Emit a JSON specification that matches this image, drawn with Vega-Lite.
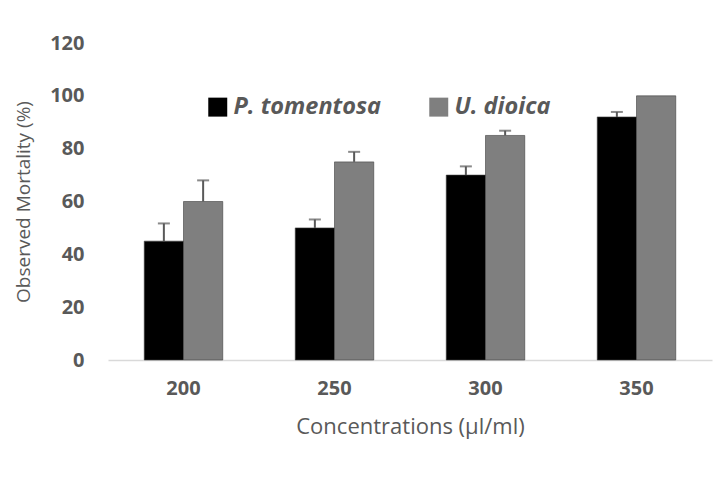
{
  "$schema": "https://vega.github.io/schema/vega-lite/v6.json",
  "autosize": "none",
  "width": 604,
  "height": 317,
  "padding": {"left": 108, "top": 43, "right": 11, "bottom": 144},
  "background": "white",
  "config": {
    "font": "Open Sans",
    "view": {"stroke": null},
    "axis": {"labelColor": "#595959", "titleColor": "#595959", "grid": false, "ticks": false}
  },
  "data": {
    "values": [
      {"conc": "200", "species": "P. tomentosa", "mortality": 45, "upper": 51.7},
      {"conc": "200", "species": "U. dioica", "mortality": 60, "upper": 68},
      {"conc": "250", "species": "P. tomentosa", "mortality": 50, "upper": 53.2},
      {"conc": "250", "species": "U. dioica", "mortality": 75, "upper": 78.8},
      {"conc": "300", "species": "P. tomentosa", "mortality": 70, "upper": 73.3},
      {"conc": "300", "species": "U. dioica", "mortality": 85, "upper": 86.8},
      {"conc": "350", "species": "P. tomentosa", "mortality": 92, "upper": 93.9},
      {"conc": "350", "species": "U. dioica", "mortality": 100}
    ]
  },
  "encoding": {
    "x": {
      "field": "conc", "type": "nominal",
      "scale": {"paddingInner": 0.48, "paddingOuter": 0.24},
      "axis": {
        "title": "Concentrations  (µl/ml)", "labelAngle": 0,
        "labelFontSize": 20, "labelFontWeight": "bold", "labelPadding": 18,
        "titleFontSize": 22, "titleFontWeight": "normal", "titlePadding": 18,
        "domain": true, "domainColor": "#d9d9d9", "domainWidth": 1.5
      }
    },
    "xOffset": {"field": "species", "type": "nominal", "scale": {"paddingInner": 0, "paddingOuter": 0}}
  },
  "layer": [
    {
      "mark": {"type": "bar", "stroke": "#404040", "strokeWidth": 0.6},
      "encoding": {
        "y": {
          "field": "mortality", "type": "quantitative",
          "scale": {"domain": [0, 120], "nice": false},
          "axis": {
            "title": "Observed Mortality (%)", "values": [0, 20, 40, 60, 80, 100, 120],
            "domain": false, "labelFontSize": 20, "labelFontWeight": "bold", "labelPadding": 24,
            "titleFontSize": 19, "titleFontWeight": "normal", "titlePadding": 16
          }
        },
        "color": {
          "field": "species", "type": "nominal",
          "scale": {"domain": ["P. tomentosa", "U. dioica"], "range": ["#000000", "#7f7f7f"]},
          "legend": {
            "title": null, "orient": "none", "legendX": 98, "legendY": 52,
            "direction": "horizontal", "symbolType": "square", "symbolSize": 360,
            "symbolStrokeWidth": 0, "labelFontSize": 23.5, "labelFontWeight": "bold",
            "labelFontStyle": "italic", "labelColor": "#595959", "columnPadding": 45, "labelOffset": 4
          }
        }
      }
    },
    {
      "transform": [{"filter": "isValid(datum.upper)"}],
      "mark": {"type": "rule", "color": "#595959", "strokeWidth": 2},
      "encoding": {
        "y": {"field": "mortality", "type": "quantitative"},
        "y2": {"field": "upper"}
      }
    },
    {
      "transform": [{"filter": "isValid(datum.upper)"}],
      "mark": {"type": "tick", "color": "#595959", "thickness": 2, "size": 12},
      "encoding": {
        "y": {"field": "upper", "type": "quantitative"}
      }
    }
  ]
}
